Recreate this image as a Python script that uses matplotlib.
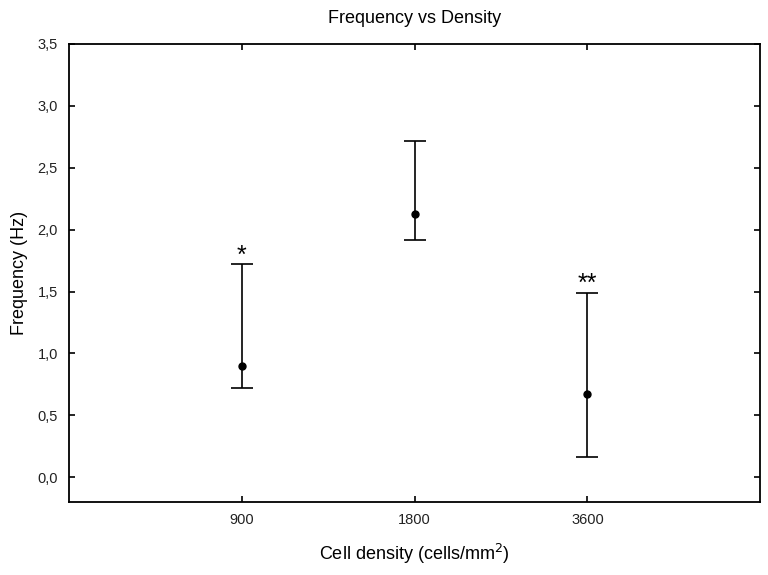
import matplotlib
matplotlib.use("Agg")
import matplotlib.pyplot as plt

# data
densities = ["900", "1800", "3600"]
freq_mean = [0.90, 2.13, 0.67]
freq_low = [0.72, 1.92, 0.16]
freq_high = [1.72, 2.72, 1.49]
marks = ["*", "", "**"]
y_ticks = [0.0, 0.5, 1.0, 1.5, 2.0, 2.5, 3.0, 3.5]

plt.rcParams["font.family"] = ["Liberation Sans", "DejaVu Sans"]

fig = plt.figure(figsize=(7.68, 5.75), dpi=100)
ax = fig.add_axes([0.0898, 0.127, 0.9, 0.7965])

x = list(range(1, len(densities) + 1))
yerr = [[m - lo for m, lo in zip(freq_mean, freq_low)],
        [hi - m for m, hi in zip(freq_mean, freq_high)]]
ax.errorbar(x, freq_mean, yerr=yerr, fmt="o", color="black", ms=5,
            elinewidth=1.2, capsize=8, capthick=1.2)

for xi, hi, m in zip(x, freq_high, marks):
    if m:
        ax.text(xi, hi - 0.025, m, ha="center", va="bottom", fontsize=18)

ax.set_xlim(0, 4)
ax.set_ylim(-0.2, 3.5)
ax.set_xticks(x)
ax.set_xticklabels(densities)
ax.set_yticks(y_ticks)
ax.set_yticklabels([f"{t:.1f}".replace(".", ",") for t in y_ticks])
ax.tick_params(direction="in", length=4, width=1.2, top=True, right=True,
               labelsize=10.5, pad=8, labelcolor="#222222")
for s in ax.spines.values():
    s.set_linewidth(1.3)

ax.set_xlabel("Cell density (cells/mm$^2$)", fontsize=13, labelpad=11)
ax.set_ylabel("Frequency (Hz)", fontsize=13, labelpad=7)
ax.set_title("Frequency vs Density", fontsize=13, pad=15)

fig.savefig("out.png", dpi=100)
